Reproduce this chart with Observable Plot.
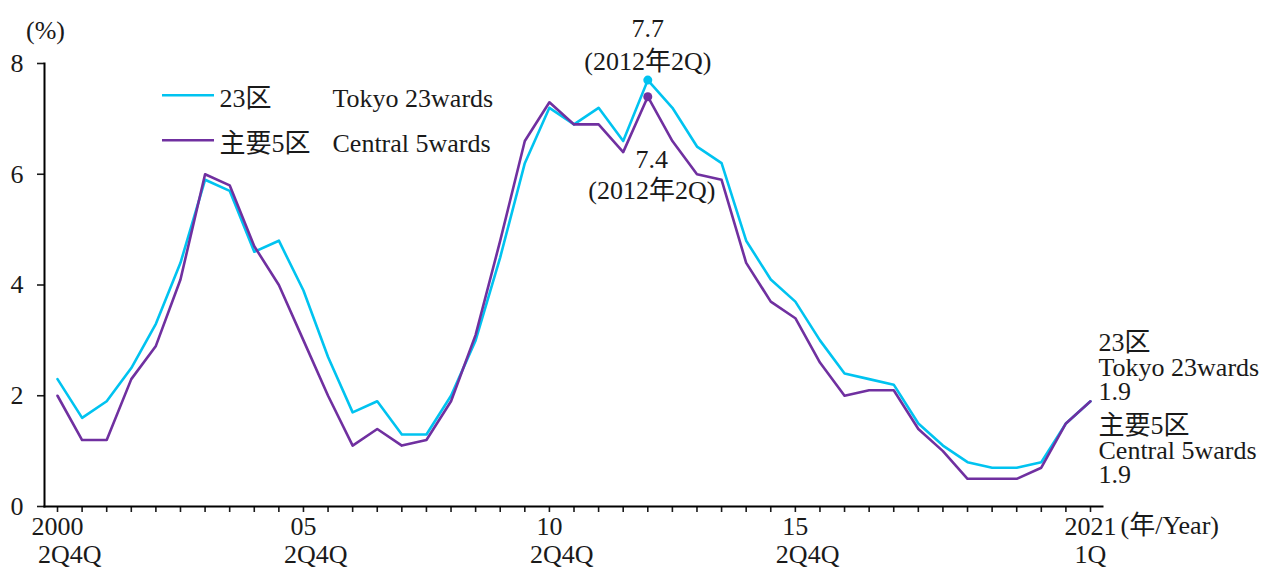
<!DOCTYPE html>
<html>
<head>
<meta charset="utf-8">
<script src="https://cdn.jsdelivr.net/npm/d3@7"></script>
<script src="https://cdn.jsdelivr.net/npm/@observablehq/plot@0.6"></script>
<style>
  html, body { margin: 0; padding: 0; background: #fff; }
  #chart { width: 1266px; height: 568px; }
</style>
</head>
<body>
<div id="chart"></div>
<script>
// Periods: semiannual 2Q / 4Q from 2000 to 2020, then 2021 1Q
const periods = [
  "2000 2Q","2000 4Q","2001 2Q","2001 4Q","2002 2Q","2002 4Q","2003 2Q","2003 4Q",
  "2004 2Q","2004 4Q","2005 2Q","2005 4Q","2006 2Q","2006 4Q","2007 2Q","2007 4Q",
  "2008 2Q","2008 4Q","2009 2Q","2009 4Q","2010 2Q","2010 4Q","2011 2Q","2011 4Q",
  "2012 2Q","2012 4Q","2013 2Q","2013 4Q","2014 2Q","2014 4Q","2015 2Q","2015 4Q",
  "2016 2Q","2016 4Q","2017 2Q","2017 4Q","2018 2Q","2018 4Q","2019 2Q","2019 4Q",
  "2020 2Q","2020 4Q","2021 1Q"
];
// Vacancy rate (%) — Tokyo 23 wards
const tokyo23 = [
  2.3,1.6,1.9,2.5,3.3,4.4,5.9,5.7,4.6,4.8,
  3.9,2.7,1.7,1.9,1.3,1.3,2.0,3.0,4.5,6.2,
  7.2,6.9,7.2,6.6,7.7,7.2,6.5,6.2,4.8,4.1,
  3.7,3.0,2.4,2.3,2.2,1.5,1.1,0.8,0.7,0.7,
  0.8,1.5,1.9
];
// Vacancy rate (%) — Central 5 wards
const central5 = [
  2.0,1.2,1.2,2.3,2.9,4.1,6.0,5.8,4.7,4.0,
  3.0,2.0,1.1,1.4,1.1,1.2,1.9,3.1,4.8,6.6,
  7.3,6.9,6.9,6.4,7.4,6.6,6.0,5.9,4.4,3.7,
  3.4,2.6,2.0,2.1,2.1,1.4,1.0,0.5,0.5,0.5,
  0.7,1.5,1.9
];
const yTicks = [0, 2, 4, 6, 8];
const xTickIdx = [0, 10, 20, 30, 42];
const xTickLabels = ["2000", "05", "10", "15", "2021"];
const subTickIdx = [0.5, 10.5, 20.5, 30.5, 42];
const subTickLabels = ["2Q4Q", "2Q4Q", "2Q4Q", "2Q4Q", "1Q"];
const seriesNames = ["23区", "主要5区"];
const seriesNamesEn = ["Tokyo 23wards", "Central 5wards"];
const colors = ["#00C3F0", "#7030A0"];
const peakIdx = 24;

const toRows = (vals) => vals.map((v, i) => ({i, period: periods[i], v}));
const rowsT = toRows(tokyo23);
const rowsC = toRows(central5);
const last = periods.length - 1;

const FONT = "'Liberation Serif', 'Noto Sans CJK JP', serif";
const FS = 26;
const INK = "#1a1a1a";
const LEG_DY = [34.7, 79.7];

const legendMarks = seriesNames.flatMap((n, i) => [
  Plot.text([n], {frameAnchor: "top-left", text: d => d, textAnchor: "start", lineAnchor: "middle", dx: 175, dy: LEG_DY[i], fontSize: FS, fill: INK}),
  Plot.text([seriesNamesEn[i]], {frameAnchor: "top-left", text: d => d, textAnchor: "start", lineAnchor: "middle", dx: 288, dy: LEG_DY[i], fontSize: FS, fill: INK})
]);

const chart = Plot.plot({
  width: 1266,
  height: 568,
  marginLeft: 44,
  marginRight: 164,
  marginTop: 63,
  marginBottom: 62,
  x: {domain: [-0.529, 42.488], axis: null},
  y: {domain: [0, 8], axis: null},
  style: {fontFamily: FONT, fontSize: FS + "px", color: INK, background: "#fff", overflow: "visible"},
  marks: [
    Plot.axisY({ticks: yTicks, tickSize: 7, tickPadding: 14, tickFormat: d => String(d), fontSize: FS, label: null, strokeWidth: 1.6}),
    Plot.axisX({ticks: d3.range(periods.length), tickSize: 6, tickFormat: () => "", label: null, strokeWidth: 1.6}),
    Plot.axisX({ticks: xTickIdx, tickSize: 0, tickPadding: 10, tickFormat: d => xTickLabels[xTickIdx.indexOf(d)], fontSize: FS, label: null}),
    Plot.axisX({ticks: subTickIdx, tickSize: 0, tickPadding: 38, tickFormat: d => subTickLabels[subTickIdx.indexOf(d)], fontSize: FS, label: null}),
    Plot.frame({anchor: "left", stroke: "#000", strokeWidth: 2}),
    Plot.frame({anchor: "bottom", stroke: "#000", strokeWidth: 2}),
    Plot.line(rowsT, {x: "i", y: "v", stroke: colors[0], strokeWidth: 2.6}),
    Plot.line(rowsC, {x: "i", y: "v", stroke: colors[1], strokeWidth: 2.6}),
    Plot.dot([rowsT[peakIdx]], {x: "i", y: "v", r: 4.5, fill: colors[0]}),
    Plot.dot([rowsC[peakIdx]], {x: "i", y: "v", r: 4.5, fill: colors[1]}),
    // peak annotations
    Plot.text([rowsT[peakIdx]], {x: "i", y: "v", text: d => `${d.v.toFixed(1)}\n(2012年2Q)`, lineAnchor: "bottom", lineHeight: 1.27, dy: -10, fontSize: FS, fill: INK}),
    Plot.text([rowsC[peakIdx]], {x: "i", y: "v", text: d => `${d.v.toFixed(1)}\n(2012年2Q)`, lineAnchor: "bottom", lineHeight: 1.2, dy: 102, dx: 4, fontSize: FS, fill: INK}),
    // end labels
    Plot.text([rowsT[last]], {x: "i", y: "v", text: d => `${seriesNames[0]}\n${seriesNamesEn[0]}\n${d.v.toFixed(1)}`, lineAnchor: "bottom", lineHeight: 0.95, textAnchor: "start", dx: 8, dy: -1, fontSize: FS, fill: INK}),
    Plot.text([rowsC[last]], {x: "i", y: "v", text: d => `${seriesNames[1]}\n${seriesNamesEn[1]}\n${d.v.toFixed(1)}`, lineAnchor: "bottom", lineHeight: 0.95, textAnchor: "start", dx: 8, dy: 82, fontSize: FS, fill: INK}),
    // axis unit labels
    Plot.text([last], {x: d => d, frameAnchor: "bottom", text: () => "(年/Year)", textAnchor: "start", lineAnchor: "top", dx: 30, dy: 9, fontSize: FS, fill: INK}),
    Plot.text(["(%)"], {frameAnchor: "top-left", text: d => d, textAnchor: "middle", lineAnchor: "middle", dx: 1, dy: -33, fontSize: FS, fill: INK}),
    ...legendMarks
  ]
});

document.getElementById("chart").appendChild(chart);

// legend swatches
const svg = d3.select(chart);
const lg = svg.append("g");
seriesNames.forEach((n, i) => {
  const y = 63 + LEG_DY[i] - 2.5;
  lg.append("line").attr("x1", 162).attr("x2", 214).attr("y1", y).attr("y2", y)
    .attr("stroke", colors[i]).attr("stroke-width", 2.6);
});
</script>
</body>
</html>
